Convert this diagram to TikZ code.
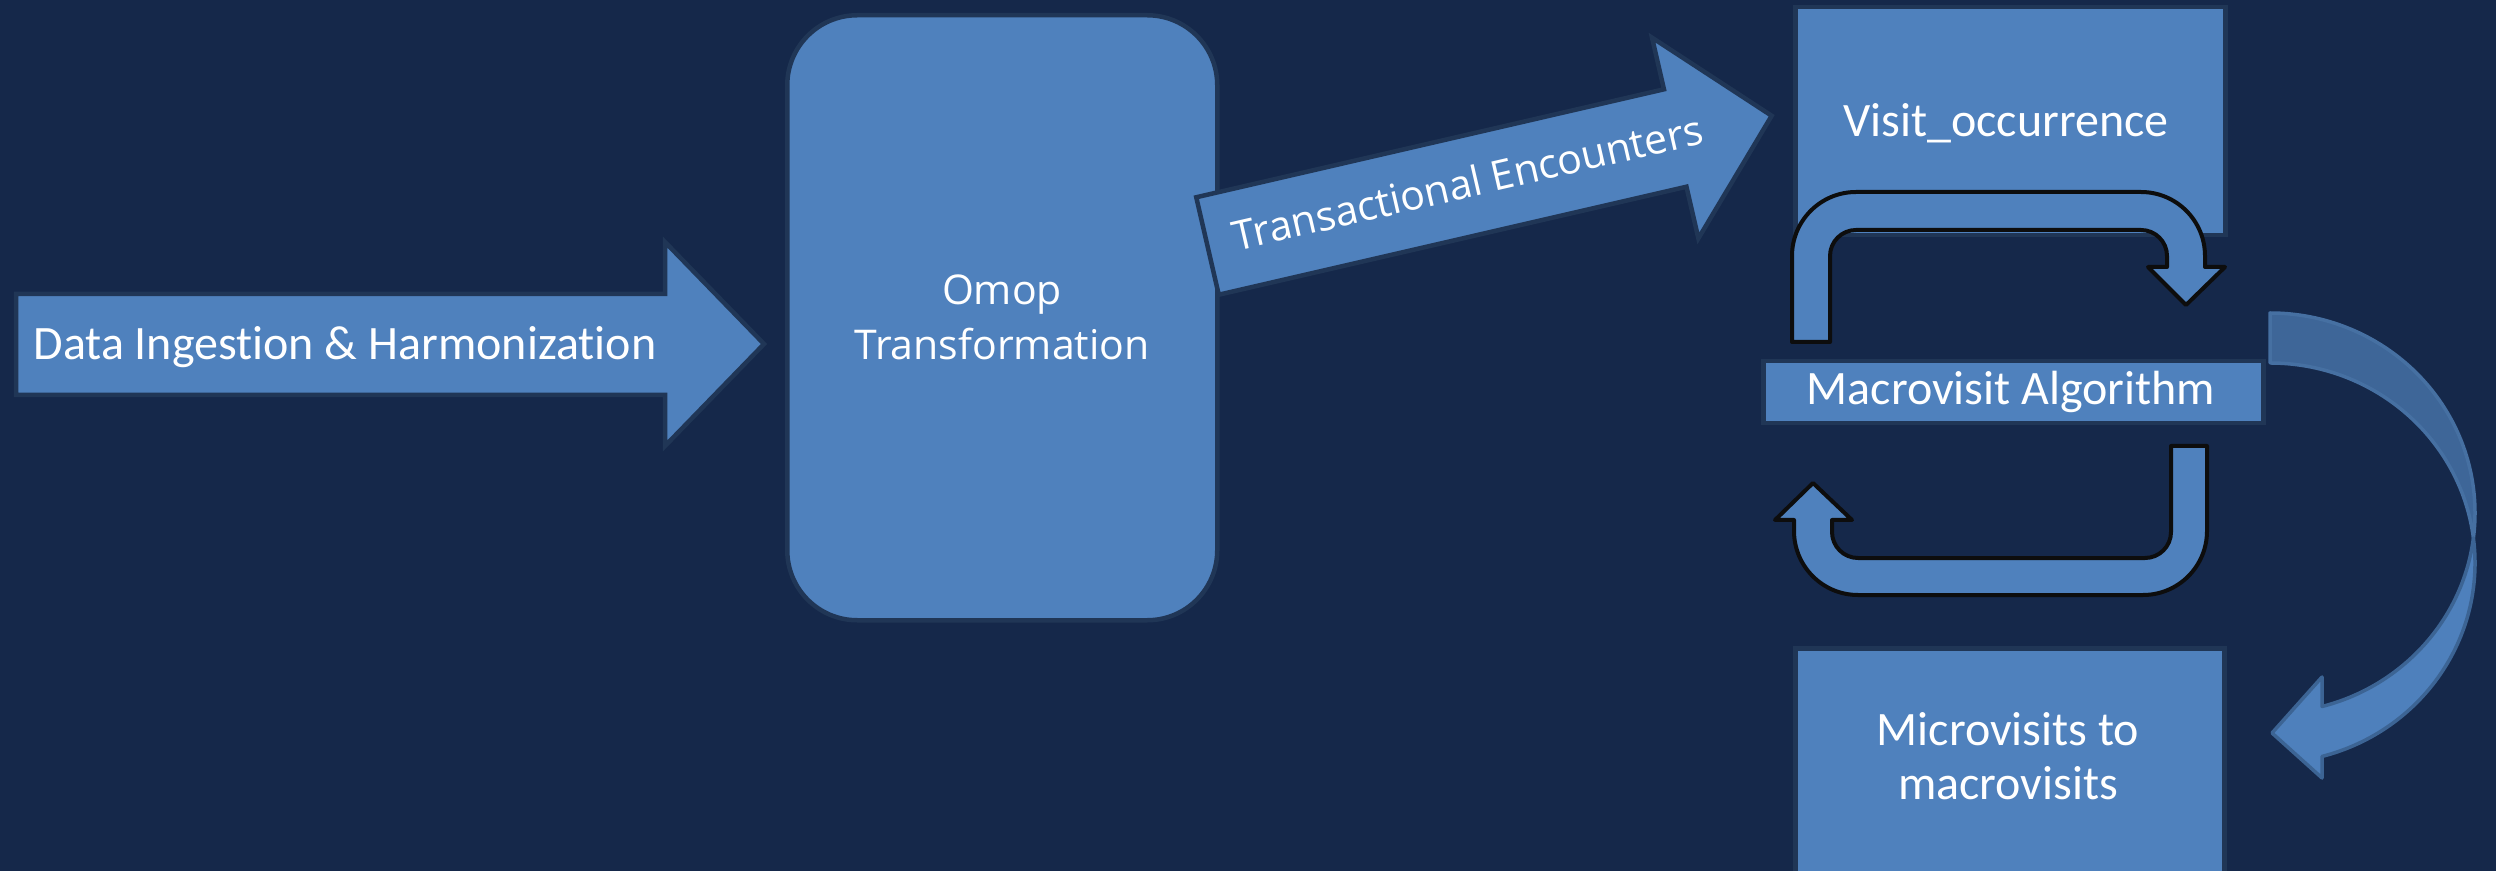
\documentclass[tikz,border=0pt]{standalone}
\usepackage{fontspec}
\setmainfont{Carlito}[Ligatures=NoCommon]
\newfontfamily\osans{Open Sans}
\definecolor{bgc}{RGB}{21,40,74}
\definecolor{fillc}{RGB}{79,129,189}
\definecolor{edgec}{RGB}{32,54,86}
\definecolor{backc}{RGB}{62,102,152}
\definecolor{backedge}{RGB}{70,112,162}
\definecolor{frontc}{RGB}{78,128,188}
\definecolor{frontedge}{RGB}{60,100,148}
\definecolor{ublack}{RGB}{13,13,13}
\begin{document}
\begin{tikzpicture}[x=0.5pt,y=-0.5pt,
  blk/.style={fill=fillc,draw=edgec,line width=2.25pt,line join=miter},
  uarrow/.style={fill=fillc,draw=ublack,line width=2pt,line join=round},
  box/.style={blk,rectangle,inner sep=0pt,anchor=north west},
  lbl/.style={text=white,inner sep=0pt,font=\fontsize{24pt}{27pt}\selectfont},
  lblone/.style={lbl,anchor=base},
  lbltwo/.style={lbl,align=center,anchor=south,text depth=0pt},
  backsty/.style={fill=backc,draw=backedge,line width=1.75pt,line join=round},
  frontsty/.style={fill=frontc,draw=frontedge,line width=1.75pt,line join=round}]
\useasboundingbox (0,0) rectangle (2496,871);
\clip (0,0) rectangle (2496,871);
\fill[bgc] (0,0) rectangle (2496,871);

% left block arrow
\draw[blk] (16,294) -- (665,294) -- (665,242) -- (764,344) -- (665,446) -- (665,395) -- (16,395) -- cycle;
\node[lblone] (tdata) at (345,360) {Data Ingestion \& Harmonization};

% Omop box
\node[box, minimum width=215pt, minimum height=302.5pt, rounded corners=35pt] (omop) at (785,13) {};
\node[lbltwo, font=\osans\fontsize{20.5pt}{27.5pt}\selectfont] (tomop) at (1002,360) {Omop\\Transformation};

% transactional arrow
\begin{scope}[shift={(1207.5,246)}, rotate=13]
  \draw[blk] (0,-50) -- (480,-50) -- (480,-103) -- (579,0) -- (480,103) -- (480,50) -- (0,50) -- cycle;
  \node[lblone, font=\osans\fontsize{20.5pt}{24pt}\selectfont, rotate=13] (ttrans) at (268,11.6) {Transactional Encounters};
\end{scope}

% right column boxes
\node[box, minimum width=215pt, minimum height=114pt] (visit) at (1793,5) {};
\node[lblone] (tvisit) at (2006,137) {Visit\_occurrence};

\draw[uarrow] (1792,342) -- (1792,256) arc[start angle=180,end angle=270,radius=64]
  -- (2141,192) arc[start angle=270,end angle=360,radius=64]
  -- (2205,267) -- (2225,267) -- (2186,305) -- (2148,267) -- (2167,267)
  -- (2167,256) arc[start angle=0,end angle=-90,radius=26]
  -- (1856,230) arc[start angle=270,end angle=180,radius=26]
  -- (1830,342) -- cycle;

\node[box, minimum width=250pt, minimum height=31pt] (macro) at (1761,359) {};
\node[lblone] (tmacro) at (2011,405) {Macrovisit Algorithm};

\draw[uarrow] (2207,446) -- (2207,531) arc[start angle=0,end angle=90,radius=64]
  -- (1858,595) arc[start angle=90,end angle=180,radius=64]
  -- (1794,520) -- (1775,520) -- (1813,483) -- (1852,520) -- (1832,520)
  -- (1832,532) arc[start angle=180,end angle=90,radius=26]
  -- (2145,558) arc[start angle=90,end angle=0,radius=26]
  -- (2171,446) -- cycle;

\node[box, minimum width=214.5pt, minimum height=130pt] (micro) at (1793,646) {};
\node[lbltwo] (tmicro) at (2008,800) {Microvisits to\\macrovisits};

% curved arrow
\draw[backsty] (2270,313) arc[start angle=270,end angle=367.18,x radius=205,y radius=200]
  coordinate (cross)
  arc[start angle=352.82,end angle=270,x radius=205,y radius=200] -- cycle;
\draw[frontsty] (cross) arc[start angle=-7.18,end angle=75.3,x radius=205,y radius=200]
  -- (2322,778) -- (2272,733) -- (2322,677) -- (2322,706.5)
  arc[start angle=75.3,end angle=7.18,x radius=205,y radius=200] -- cycle;
\end{tikzpicture}
\end{document}
